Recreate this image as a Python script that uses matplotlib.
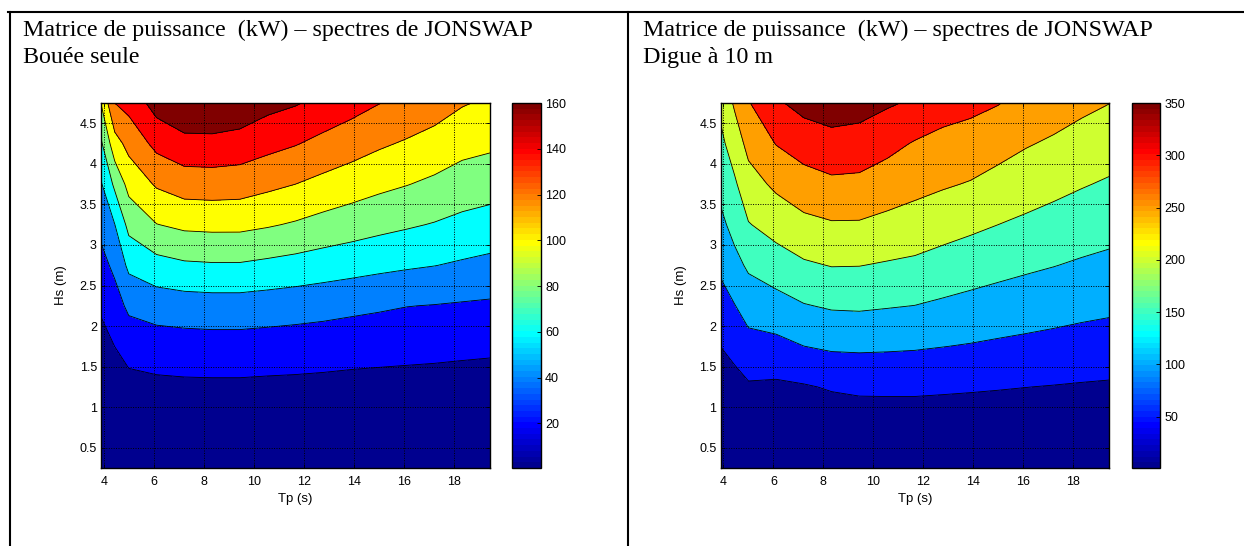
import numpy as np
import matplotlib
matplotlib.use("Agg")
import matplotlib.pyplot as plt
import matplotlib.cm as cm
from matplotlib.colors import ListedColormap, Normalize
from matplotlib.lines import Line2D

# periodes de pic (s) et hauteurs significatives (m)
tp = [3.89, 4.44, 5.0, 6.11, 7.22, 8.33, 9.44, 10.56, 11.67, 12.78, 13.89, 15.0, 16.11, 17.22, 18.33, 19.44]
hs = [0.25, 0.75, 1.25, 1.75, 2.25, 2.75, 3.25, 3.75, 4.25, 4.75]

# puissance (kW), une ligne par Hs
power_buoy = [
    [0.45, 0.48, 0.55, 0.62, 0.65, 0.66, 0.66, 0.64, 0.62, 0.59, 0.56, 0.54, 0.53, 0.51, 0.49, 0.47],
    [2.5, 3.7, 4.9, 5.6, 5.9, 5.9, 5.9, 5.7, 5.6, 5.4, 5.1, 4.9, 4.7, 4.6, 4.4, 4.2],
    [6.9, 10.3, 13.7, 15.5, 16.3, 16.5, 16.5, 15.9, 15.5, 14.9, 14.1, 13.6, 13.2, 12.8, 12.2, 11.8],
    [13.4, 20.1, 27.5, 30.5, 31.5, 32.0, 32.0, 31.1, 30.3, 29.2, 27.9, 26.9, 26.0, 25.2, 24.2, 23.3],
    [22.5, 31.7, 44.0, 48.7, 50.5, 51.4, 51.4, 50.0, 48.4, 46.7, 44.5, 42.5, 40.4, 39.4, 38.1, 37.0],
    [33.6, 44.3, 64.3, 73.0, 77.1, 78.2, 78.2, 75.6, 73.0, 70.0, 67.4, 64.7, 62.4, 60.4, 57.6, 55.0],
    [45.4, 59.7, 85.8, 99.5, 104.1, 105.0, 104.9, 101.8, 98.0, 93.3, 89.4, 85.5, 82.2, 78.9, 74.9, 72.1],
    [58.2, 84.1, 106.3, 122.3, 129.3, 130.0, 129.0, 124.4, 120.0, 114.6, 109.6, 104.7, 100.7, 96.2, 90.9, 88.0],
    [76.9, 112.1, 126.1, 145.5, 153.7, 154.3, 152.0, 146.0, 141.1, 134.5, 128.9, 122.8, 117.9, 112.8, 106.4, 103.6],
    [100.5, 140.0, 146.5, 168.2, 178.0, 178.1, 174.2, 166.0, 161.5, 154.4, 147.4, 140.5, 135.2, 129.2, 121.5, 117.0],
]

power_dike = [
    [1.0, 1.32, 1.77, 1.66, 1.84, 2.13, 2.31, 2.34, 2.35, 2.28, 2.21, 2.12, 2.02, 1.94, 1.85, 1.77],
    [9.2, 11.9, 16.0, 15.0, 16.6, 19.1, 20.8, 21.1, 21.2, 20.5, 19.9, 19.1, 18.2, 17.4, 16.6, 16.0],
    [25.7, 32.9, 44.4, 41.6, 46.1, 54.1, 58.6, 59.0, 58.9, 57.0, 55.0, 52.8, 50.5, 48.4, 46.2, 44.4],
    [50.3, 64.2, 82.9, 86.5, 99.7, 106.8, 107.9, 106.5, 104.5, 100.8, 97.1, 92.8, 89.0, 85.0, 80.8, 77.6],
    [80.0, 98.1, 120.4, 131.6, 147.3, 155.1, 156.6, 153.0, 149.5, 142.5, 135.8, 129.5, 124.0, 119.0, 113.6, 109.2],
    [109.5, 134.9, 157.6, 176.4, 193.6, 201.8, 201.1, 195.7, 190.9, 181.5, 173.0, 165.0, 157.7, 151.3, 144.4, 138.7],
    [138.4, 165.9, 197.4, 219.0, 237.5, 245.6, 245.3, 236.9, 229.1, 219.1, 209.7, 200.0, 191.3, 182.5, 174.1, 167.1],
    [164.4, 192.7, 230.8, 259.3, 279.4, 290.4, 288.4, 275.4, 264.1, 255.1, 247.0, 233.8, 222.8, 213.3, 203.4, 194.8],
    [188.5, 223.7, 263.8, 301.7, 322.1, 333.1, 329.5, 314.2, 296.2, 287.2, 279.9, 267.8, 253.7, 243.4, 232.2, 222.7],
    [212.5, 256.0, 296.8, 343.0, 366.0, 375.3, 369.9, 355.8, 343.0, 319.2, 312.3, 302.0, 284.6, 273.5, 260.9, 250.7],
]

levels_buoy = [20, 40, 60, 80, 100, 120, 140, 160]
levels_dike = [50, 100, 150, 200, 250, 300, 350]

xticks = [4, 6, 8, 10, 12, 14, 16, 18]
yticks = [0.5, 1, 1.5, 2, 2.5, 3, 3.5, 4, 4.5]

title_main = "Matrice de puissance  (kW) \u2013 spectres de JONSWAP"
subtitles = ["Bouée seule", "Digue à 10 m"]


def matlab_jet(m=64):
    # same construction as the classic 64-entry jet table
    n = int(np.ceil(m / 4))
    u = np.concatenate([np.arange(1, n + 1) / n, np.ones(n - 1), np.arange(n, 0, -1) / n])
    g = int(np.ceil(n / 2)) - int(m % 4 == 1) + np.arange(1, len(u) + 1)
    r = g + n
    b = g - n
    tab = np.zeros((m, 3))
    for chan, idx in enumerate([r, g, b]):
        ok = (idx >= 1) & (idx <= m)
        tab[idx[ok] - 1, chan] = u[ok]
    return tab


JET = matlab_jet(64)
W, H = 1244, 546
TICK_FS = 9
LABEL_FS = 9.5


def band_color(v, cmin, cmax):
    i = int(np.floor((v - cmin) / (cmax - cmin) * len(JET)))
    return tuple(JET[min(max(i, 0), len(JET) - 1)])


def draw_panel(ax, cax, z, levels):
    z = np.array(z)
    cmin, cmax = z.min(), levels[-1]
    bounds = [cmin] + levels + [max(z.max(), cmax) + 1]
    fills = [band_color(v, cmin, cmax) for v in [cmin] + levels]
    ax.contourf(tp, hs, z, levels=bounds, colors=fills)
    ax.contour(tp, hs, z, levels=levels, colors="k", linewidths=0.6)
    ax.set_xlim(tp[0], tp[-1])
    ax.set_ylim(hs[0], hs[-1])
    ax.set_xticks(xticks)
    ax.set_yticks(yticks)
    ax.set_yticklabels([f"{t:g}" for t in yticks])
    ax.set_axisbelow(False)
    ax.grid(True, color="k", linestyle=(0, (1, 1.5)), linewidth=0.7)
    ax.tick_params(direction="in", top=True, right=True, length=3, width=0.6,
                   labelsize=TICK_FS, colors="k")
    ax.tick_params(axis="y", pad=3)
    ax.tick_params(axis="x", pad=6)
    for s in ax.spines.values():
        s.set_linewidth(1.0)
    ax.set_xlabel("Tp (s)", fontsize=LABEL_FS)
    ax.set_ylabel("Hs (m)", fontsize=LABEL_FS)
    ax.xaxis.set_label_coords(0.5, -0.068)
    ax.yaxis.set_label_coords(-0.087, 0.5)

    sm = cm.ScalarMappable(norm=Normalize(cmin, cmax), cmap=ListedColormap(JET))
    cb = plt.colorbar(sm, cax=cax, ticks=levels[:-1] + [cmax])
    cb.outline.set_linewidth(1.0)
    cax.tick_params(direction="in", length=3, width=0.6, labelsize=TICK_FS, pad=3)


plt.rcParams["font.family"] = ["Liberation Sans", "DejaVu Sans"]
fig = plt.figure(figsize=(W / 100, H / 100), dpi=100)


def box(x0, x1):
    return [x0 / W, 78 / H, (x1 - x0) / W, 365 / H]


ax1 = fig.add_axes(box(101, 490))
cax1 = fig.add_axes(box(512, 541))
ax2 = fig.add_axes(box(720.7, 1109))
cax2 = fig.add_axes(box(1131.7, 1160))

draw_panel(ax1, cax1, power_buoy, levels_buoy)
draw_panel(ax2, cax2, power_dike, levels_dike)

# cell titles
for x0, sub in zip([22.7, 642.7], subtitles):
    fig.text(x0 / W, 1 - 35.7 / H, title_main, fontsize=17.3, family="Liberation Serif", va="baseline")
    fig.text(x0 / W, 1 - 62.7 / H, sub, fontsize=17.3, family="Liberation Serif", va="baseline")

# table borders
ytop = 1 - 12 / H
fig.add_artist(Line2D([8 / W, 1], [ytop, ytop], color="k", lw=1.5))
fig.add_artist(Line2D([10 / W, 10 / W], [0, ytop], color="k", lw=1.5))
fig.add_artist(Line2D([628 / W, 628 / W], [0, ytop], color="k", lw=1.5))

fig.savefig("out.png", dpi=100)
